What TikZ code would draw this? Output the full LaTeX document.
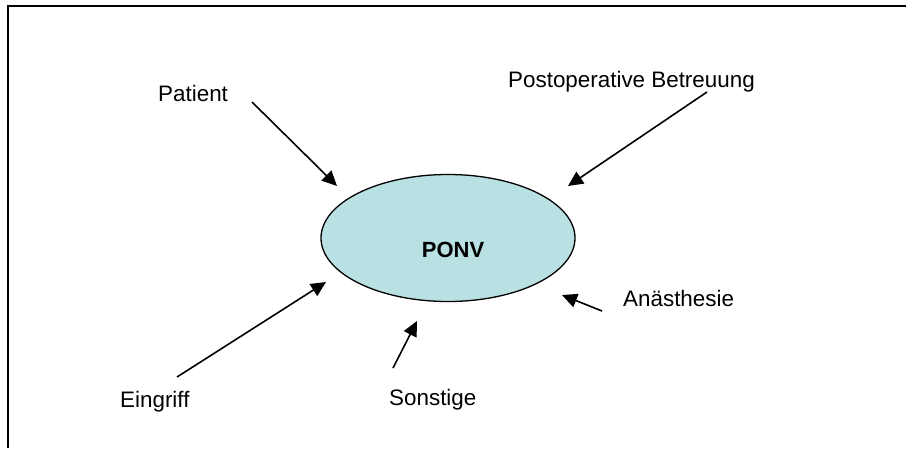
\documentclass[tikz,border=0pt]{standalone}
\usepackage{fontspec}
\setmainfont{Liberation Sans}
\usetikzlibrary{arrows.meta,shapes.geometric,positioning}

\definecolor{ponvfill}{RGB}{185,225,227}

\begin{document}
\begin{tikzpicture}[x=1pt,y=-1pt]
			\useasboundingbox (0,0) rectangle (906,448);
			% frame, only top and left side
			\draw[line width=2pt] (8,448) -- (8,6) -- (906,6);

			\node[ellipse,draw,line width=1.3pt,fill=ponvfill,minimum width=254pt,minimum height=127pt] (ponv) at (448,238) {};
			\node[anchor=base,font=\fontsize{22}{26}\selectfont\bfseries] (ponvtext) at (453,257) {PONV};

			\begin{scope}[every node/.style={anchor=base west,inner sep=0pt,font=\fontsize{22.4}{27}\selectfont}]
				\node (patient) at (158,101) {Patient};
				\node (postop) at (508,87) {Postoperative Betreuung};
				\node (eingriff) at (120,407) {Eingriff};
				\node (sonstige) at (389,405) {Sonstige};
				\node (anaest) at (623,306) {Anästhesie};
			\end{scope}

			% arrow ends
			\coordinate (patientA) at (252,102);
			\coordinate (patientB) at (337,186);
			\coordinate (postopA) at (707,92);
			\coordinate (postopB) at (568,186);
			\coordinate (eingriffA) at (177,377);
			\coordinate (eingriffB) at (326,282);
			\coordinate (sonstigeA) at (393,368);
			\coordinate (sonstigeB) at (417,321);
			\coordinate (anaestA) at (602,311);
			\coordinate (anaestB) at (562,295);

			\begin{scope}[>={Triangle[length=15pt,width=14pt]},
				every edge/.style={draw,line width=1.6pt}]
				\path[->] (patientA) edge (patientB);
				\path[->] (postopA) edge (postopB);
				\path[->] (eingriffA) edge (eingriffB);
				\path[->] (sonstigeA) edge (sonstigeB);
				\path[->] (anaestA) edge (anaestB);
			\end{scope}
		\end{tikzpicture}
\end{document}
